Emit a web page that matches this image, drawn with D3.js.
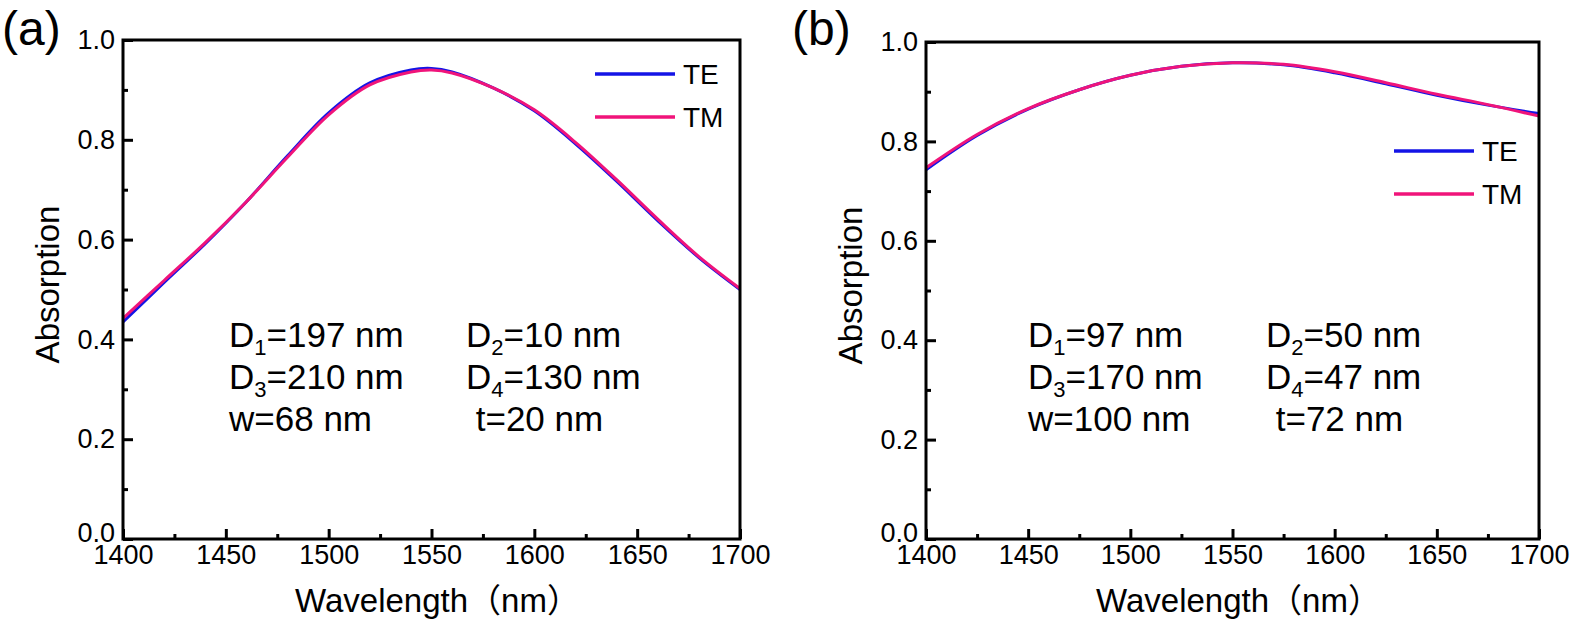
<!DOCTYPE html>
<html>
<head>
<meta charset="utf-8">
<script src="https://cdnjs.cloudflare.com/ajax/libs/d3/7.8.5/d3.min.js"></script>
<style>
  body { margin: 0; background: #fff; }
  svg { display: block; font-family: "Liberation Sans", Arial, "Noto Sans CJK SC", sans-serif; }
</style>
</head>
<body>
<svg id="chart" width="1575" height="624"></svg>
<script>
// ---- data ----
const wavelengthA = [1400, 1420, 1440, 1460, 1480, 1500, 1520, 1540, 1550, 1560, 1580, 1600, 1620, 1640, 1660, 1680, 1700];
const teA = [0.435, 0.514, 0.592, 0.676, 0.768, 0.854, 0.914, 0.940, 0.943, 0.936, 0.904, 0.858, 0.792, 0.717, 0.638, 0.564, 0.500];
const tmA = [0.442, 0.518, 0.594, 0.676, 0.765, 0.850, 0.910, 0.936, 0.940, 0.934, 0.904, 0.860, 0.795, 0.720, 0.641, 0.566, 0.502];

const wavelengthB = [1400, 1425, 1450, 1475, 1500, 1525, 1550, 1575, 1600, 1625, 1650, 1675, 1700];
const teB = [0.743, 0.812, 0.865, 0.904, 0.933, 0.951, 0.958, 0.954, 0.938, 0.916, 0.893, 0.873, 0.856];
const tmB = [0.747, 0.814, 0.866, 0.904, 0.933, 0.951, 0.958, 0.955, 0.940, 0.918, 0.895, 0.874, 0.851];

const xTicks = [1400, 1450, 1500, 1550, 1600, 1650, 1700];
const xMinor = [1425, 1475, 1525, 1575, 1625, 1675];
const yTicks = [0, 0.2, 0.4, 0.6, 0.8, 1.0];
const yMinor = [0.1, 0.3, 0.5, 0.7, 0.9];

const seriesNames = ["TE", "TM"];
const seriesColors = ["#1414e6", "#f0147a"];

// parameter lines: [left column, right column], each [main, subscript, rest]
const paramsA = [
  [["D", "1", "=197 nm"], ["D", "2", "=10 nm"]],
  [["D", "3", "=210 nm"], ["D", "4", "=130 nm"]],
  [["w", "", "=68 nm"], [" t", "", "=20 nm"]]
];
const paramsB = [
  [["D", "1", "=97 nm"], ["D", "2", "=50 nm"]],
  [["D", "3", "=170 nm"], ["D", "4", "=47 nm"]],
  [["w", "", "=100 nm"], [" t", "", "=72 nm"]]
];

const svg = d3.select("#chart");

function drawPanel(cfg) {
  const { left, right, top, bottom } = cfg;
  const x = d3.scaleLinear().domain([1400, 1700]).range([left, right]);
  const y = d3.scaleLinear().domain([0, 1]).range([bottom, top]);
  const g = svg.append("g");

  // curves, TE below TM
  const line = d3.line()
    .x(d => x(d[0]))
    .y(d => y(d[1]))
    .curve(d3.curveCatmullRom.alpha(0.5));
  [cfg.te, cfg.tm].forEach((vals, i) => {
    g.append("path")
      .datum(cfg.wl.map((w, j) => [w, vals[j]]))
      .attr("fill", "none")
      .attr("stroke", seriesColors[i])
      .attr("stroke-width", 3)
      .attr("d", line);
  });

  // axes with inward ticks
  g.append("g").attr("transform", `translate(0,${bottom})`)
    .call(d3.axisBottom(x).tickValues(xTicks).tickFormat(d3.format("d"))
      .tickSizeInner(-10).tickSizeOuter(0).tickPadding(6));
  g.append("g").attr("transform", `translate(0,${bottom})`)
    .call(d3.axisBottom(x).tickValues(xMinor).tickFormat("").tickSizeInner(-5).tickSizeOuter(0));
  const yAxis = g.append("g").attr("transform", `translate(${left},0)`)
    .call(d3.axisLeft(y).tickValues(yTicks).tickFormat(d3.format(".1f"))
      .tickSizeInner(-10).tickSizeOuter(0).tickPadding(8));
  g.append("g").attr("transform", `translate(${left},0)`)
    .call(d3.axisLeft(y).tickValues(yMinor).tickFormat("").tickSizeInner(-5).tickSizeOuter(0));

  g.selectAll(".domain").remove();
  g.selectAll(".tick line").attr("stroke", "#000").attr("stroke-width", 3);
  g.selectAll(".tick text").attr("fill", "#000").style("font-size", "27px")
    .style("font-family", "'Liberation Sans', Arial, sans-serif");
  // 0.0 label sits just above the 1400 label, as in the original
  yAxis.selectAll(".tick text").filter(d => d === 0).attr("dy", "0.1em");

  // frame
  g.append("rect")
    .attr("x", left).attr("y", top)
    .attr("width", right - left).attr("height", bottom - top)
    .attr("fill", "none").attr("stroke", "#000").attr("stroke-width", 3);

  // axis titles
  g.append("text")
    .attr("x", (left + right) / 2 + 6).attr("y", 612)
    .attr("text-anchor", "middle").style("font-size", "33px")
    .text("Wavelength（nm）");
  g.append("text")
    .attr("transform", `translate(${left - 64},${(top + bottom) / 2 - 5}) rotate(-90)`)
    .attr("text-anchor", "middle").style("font-size", "33px")
    .text("Absorption");

  // panel label
  g.append("text")
    .attr("x", cfg.labelX).attr("y", 45)
    .style("font-size", "48px")
    .text(cfg.label);

  // legend
  seriesNames.forEach((name, i) => {
    const ly = cfg.legendY + i * 43;
    g.append("line")
      .attr("x1", right - 145).attr("x2", right - 65)
      .attr("y1", ly).attr("y2", ly)
      .attr("stroke", seriesColors[i]).attr("stroke-width", 3.5);
    g.append("text")
      .attr("x", right - 57).attr("y", ly + 10)
      .style("font-size", "28px")
      .text(name);
  });

  // parameter text
  cfg.params.forEach((row, r) => {
    row.forEach((item, c) => {
      const t = g.append("text")
        .attr("x", cfg.paramX[c]).attr("y", 347 + r * 42)
        .style("font-size", "35px")
        .attr("xml:space", "preserve");
      t.append("tspan").text(item[0]);
      if (item[1]) {
        t.append("tspan").attr("dy", 8).style("font-size", "22px").text(item[1]);
        t.append("tspan").attr("dy", -8).text(item[2]);
      } else {
        t.append("tspan").text(item[2]);
      }
    });
  });
}

drawPanel({
  left: 123, right: 740, top: 40, bottom: 539,
  wl: wavelengthA, te: teA, tm: tmA,
  label: "(a)", labelX: 2, legendY: 74,
  params: paramsA, paramX: [229, 466]
});
drawPanel({
  left: 926, right: 1539, top: 42, bottom: 539,
  wl: wavelengthB, te: teB, tm: tmB,
  label: "(b)", labelX: 792, legendY: 151,
  params: paramsB, paramX: [1028, 1266]
});
</script>
</body>
</html>
